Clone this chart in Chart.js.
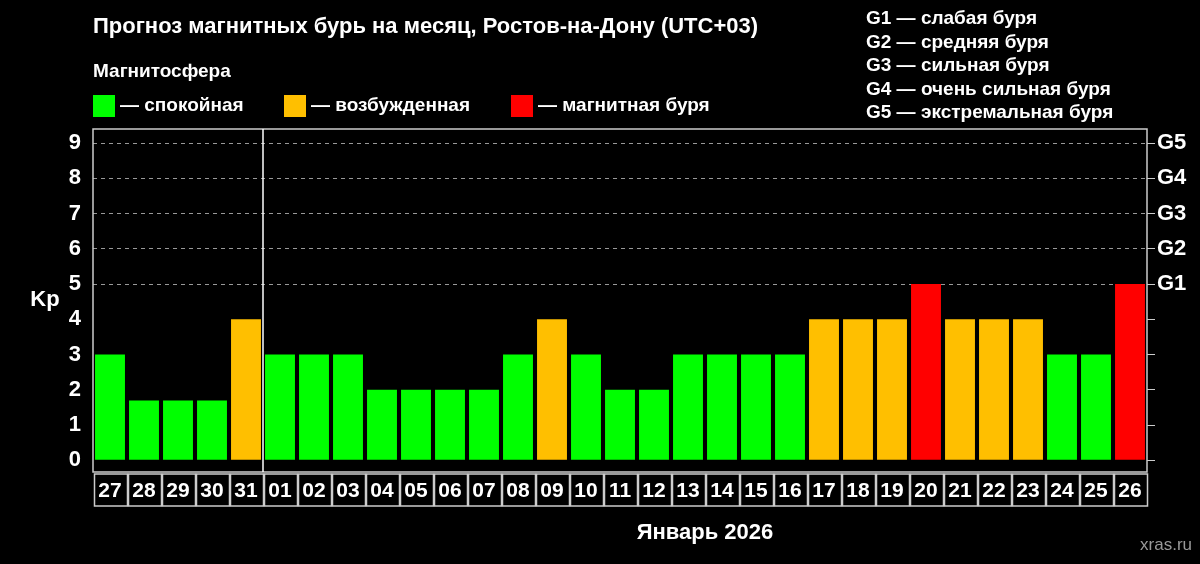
<!DOCTYPE html>
<html><head><meta charset="utf-8">
<script src="https://cdn.jsdelivr.net/npm/chart.js@4/dist/chart.umd.min.js"></script>
<style>html,body{margin:0;background:#000}#wrap{width:1200px;height:564px}</style>
</head><body><div id="wrap"><canvas id="c"></canvas></div>
<script>
const days = ['27','28','29','30','31','01','02','03','04','05','06','07','08','09','10','11','12','13','14','15','16','17','18','19','20','21','22','23','24','25','26']
const kp = [3,1.7,1.7,1.7,4,3,3,3,2,2,2,2,3,4,3,2,2,3,3,3,3,4,4,4,5,4,4,4,3,3,5]
const gLabels = {5:'G1',6:'G2',7:'G3',8:'G4',9:'G5'}
const stormText = ['G1 — слабая буря','G2 — средняя буря','G3 — сильная буря','G4 — очень сильная буря','G5 — экстремальная буря']
const legendItems = [['#00ff00','— спокойная'],['#ffbf00','— возбужденная'],['#ff0000','— магнитная буря']]

const colorFor = (v) => v >= 5 ? '#ff0000' : v >= 4 ? '#ffbf00' : '#00ff00'
const FONT = 'Liberation Sans, Arial, sans-serif'

const intTicks = (axis) => { axis.ticks = []; for (let i = 0; i <= 9; i++) axis.ticks.push({ value: i }) }

const decor = {
  id: 'decor',
  beforeDraw(chart) {
    const ctx = chart.ctx
    ctx.save()
    ctx.fillStyle = '#000'
    ctx.fillRect(0, 0, chart.width, chart.height)
    ctx.restore()
  },
  afterDraw(chart) {
    const ctx = chart.ctx
    const a = chart.chartArea
    const x = chart.scales.x
    ctx.save()
    ctx.fillStyle = '#fff'
    ctx.textBaseline = 'middle'
    ctx.font = 'bold 22px ' + FONT
    ctx.fillText('Прогноз магнитных бурь на месяц, Ростов-на-Дону (UTC+03)', 93, 27)
    ctx.font = 'bold 19px ' + FONT
    ctx.fillText('Магнитосфера', 93, 72)
    const lx = [93, 284, 511]
    legendItems.forEach((it, i) => {
      ctx.fillStyle = it[0]
      ctx.fillRect(lx[i], 95, 22, 22)
      ctx.fillStyle = '#fff'
      ctx.fillText(it[1], lx[i] + 27, 106)
    })
    stormText.forEach((t, i) => ctx.fillText(t, 866, 19 + i * 23.5))
    // frame
    ctx.strokeStyle = '#ccc'
    ctx.lineWidth = 1.5
    ctx.strokeRect(a.left, a.top, a.right - a.left, a.bottom - a.top)
    // separator between months
    const sep = (x.getPixelForValue(4) + x.getPixelForValue(5)) / 2
    ctx.strokeStyle = '#fff'
    ctx.beginPath(); ctx.moveTo(sep, a.top); ctx.lineTo(sep, a.bottom); ctx.stroke()
    // day boxes
    const w = x.getPixelForValue(1) - x.getPixelForValue(0)
    ctx.font = 'bold 21px ' + FONT
    ctx.textAlign = 'center'
    ctx.strokeStyle = '#ccc'
    days.forEach((d, i) => {
      const cx = x.getPixelForValue(i)
      ctx.strokeRect(cx - w / 2 + 1.5, a.bottom + 2, w - 1, 32)
      ctx.fillText(d, cx, a.bottom + 19)
    })
    ctx.font = 'bold 22px ' + FONT
    ctx.fillText('Январь 2026', 705, 533)
    ctx.fillText('Kp', 45, 300)
    ctx.font = '17px ' + FONT
    ctx.fillStyle = '#999'
    ctx.textAlign = 'right'
    ctx.fillText('xras.ru', 1192, 545)
    ctx.restore()
  }
}

new Chart(document.getElementById('c'), {
  type: 'bar',
  data: {
    labels: days,
    datasets: [{ data: kp, backgroundColor: kp.map(colorFor), barPercentage: 0.88, categoryPercentage: 1 }]
  },
  options: {
    responsive: true,
    maintainAspectRatio: false,
    animation: false,
    layout: { padding: { top: 129, bottom: 92, left: 0, right: 0 } },
    plugins: { legend: { display: false }, tooltip: { enabled: false } },
    scales: {
      x: { display: false },
      y: {
        position: 'left', min: -0.33, max: 9.4,
        afterBuildTicks: intTicks,
        afterFit: (s) => { s.width = 93 },
        border: { display: false, dash: [4, 4] },
        grid: {
          drawOnChartArea: true, drawTicks: false,
          color: (c) => c.tick && c.tick.value >= 5 ? '#999' : 'rgba(0,0,0,0)',
        },
        ticks: { color: '#fff', font: { family: FONT, size: 22, weight: 'bold' }, padding: 12 }
      },
      y2: {
        position: 'right', min: -0.33, max: 9.4,
        afterBuildTicks: intTicks,
        afterFit: (s) => { s.width = 53 },
        border: { display: false },
        grid: { drawOnChartArea: false, tickLength: 8, color: '#ccc' },
        ticks: { color: '#fff', font: { family: FONT, size: 22, weight: 'bold' }, padding: 2,
          callback: (v) => gLabels[v] || '' }
      }
    }
  },
  plugins: [decor]
})
</script>
</body></html>
